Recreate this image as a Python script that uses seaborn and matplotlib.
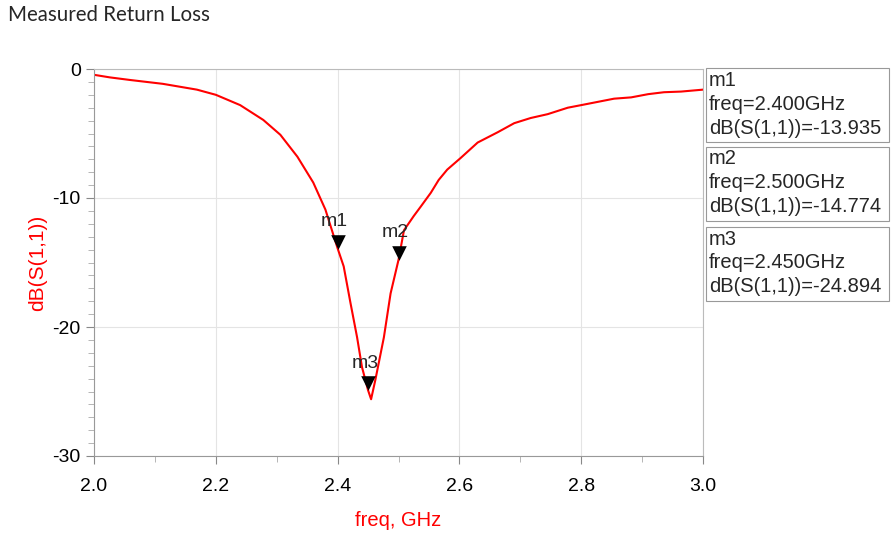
import numpy as np
import pandas as pd
import seaborn as sns
import matplotlib.pyplot as plt
from matplotlib import patches, transforms
from matplotlib.ticker import MultipleLocator

# measured S11 curve
freq = [2.0, 2.026, 2.059, 2.113, 2.169, 2.2, 2.24, 2.278, 2.306, 2.334, 2.36, 2.38,
        2.4, 2.41, 2.421, 2.432, 2.44, 2.45, 2.455, 2.462, 2.476, 2.487, 2.5, 2.509,
        2.525, 2.536, 2.553, 2.566, 2.58, 2.602, 2.63, 2.663, 2.69, 2.717, 2.745,
        2.778, 2.8, 2.827, 2.854, 2.882, 2.91, 2.936, 2.964, 3.0]
db = [-0.45, -0.65, -0.85, -1.15, -1.6, -2.0, -2.8, -3.95, -5.1, -6.8, -8.8, -10.9,
      -13.9, -15.3, -18.1, -20.8, -23.1, -24.9, -25.6, -24.1, -20.8, -17.4, -14.8, -12.5,
      -11.4, -10.7, -9.6, -8.6, -7.8, -6.9, -5.7, -4.9, -4.2, -3.8, -3.5,
      -3.0, -2.8, -2.55, -2.3, -2.2, -1.95, -1.8, -1.75, -1.6]

marker_names = ["m1", "m2", "m3"]
marker_freq = [2.400, 2.500, 2.450]
marker_db = [-13.935, -14.774, -24.894]

sns.set_style("white")
plt.rcParams['font.family'] = ['Liberation Sans', 'DejaVu Sans']
plt.rcParams['axes.unicode_minus'] = False

fig = plt.figure(figsize=(8.91, 5.39), dpi=100)
ax = fig.add_axes([94/891, 83/539, 609/891, 387/539])

df = pd.DataFrame({"freq": freq, "db": db})
sns.lineplot(data=df, x="freq", y="db", color="red", linewidth=1.5, ax=ax)

ax.set_xlim(2.0, 3.0)
ax.set_ylim(-30, 0)
ax.xaxis.set_major_locator(MultipleLocator(0.2))
ax.xaxis.set_minor_locator(MultipleLocator(0.1))
ax.yaxis.set_major_locator(MultipleLocator(10))
ax.yaxis.set_minor_locator(MultipleLocator(1))
ax.xaxis.set_major_formatter(plt.FormatStrFormatter("%.1f"))
ax.grid(True, which="major", color="#e4e4e4", linewidth=0.8)
ax.tick_params(which="major", length=6, width=0.8, color="#888888",
               labelsize=14, labelcolor="black", bottom=True, left=True)
ax.tick_params(which="minor", length=4, width=0.6, color="#aaaaaa",
               bottom=True, left=True)
ax.tick_params(axis="x", which="major", pad=10)
for side in ["left", "bottom"]:
    ax.spines[side].set_color("#999999")
for side in ["top", "right"]:
    ax.spines[side].set_color("#bbbbbb")

ax.set_xlabel("freq, GHz", color="red", fontsize=14.5, labelpad=11)
ax.set_ylabel("dB(S(1,1))", color="red", fontsize=15, labelpad=4)

# markers: downward triangles sitting on the curve
tri = transforms.offset_copy(ax.transData, fig=fig, x=0, y=7, units="dots")
ax.scatter(marker_freq, marker_db, marker="v", s=110, color="black",
           transform=tri, zorder=5, linewidths=0)
for name, f, d in zip(marker_names, marker_freq, marker_db):
    ax.annotate(name, (f, d), xytext=(-3, 27), textcoords="offset pixels",
                ha="center", va="center", fontsize=14)

fig.text(8/891, 1 - 15/539, "Measured Return Loss", fontsize=14.8,
         family=["Lato", "DejaVu Sans"], va="center", ha="left")

# marker readout boxes
box_tops = [68, 147, 227]
for name, f, d, top in zip(marker_names, marker_freq, marker_db, box_tops):
    rect = patches.Rectangle((706/891, 1 - (top + 74)/539), 183/891, 74/539,
                             transform=fig.transFigure, fill=False,
                             edgecolor="#999999", linewidth=0.8)
    fig.patches.append(rect)
    lines = [name, f"freq={f:.3f}GHz", f"dB(S(1,1))={d:.3f}"]
    for i, line in enumerate(lines):
        fig.text(709/891, 1 - (top + 12 + 24*i)/539, line, fontsize=14.5,
                 va="center", ha="left")

fig.savefig("out.png", dpi=100)
